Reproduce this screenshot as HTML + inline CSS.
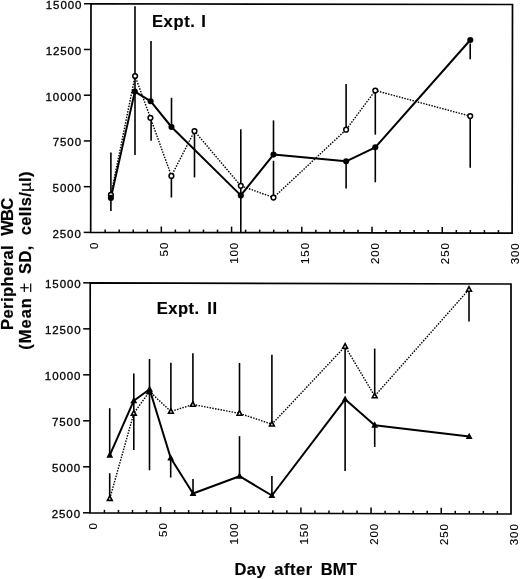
<!DOCTYPE html>
<html><head><meta charset="utf-8"><style>
html,body{margin:0;padding:0;background:#fff;width:520px;height:579px;overflow:hidden}
svg{display:block;will-change:transform}
text{font-family:"Liberation Sans",sans-serif;fill:#000}
.tk{font-size:11.5px;stroke:#000;stroke-width:0.3;letter-spacing:0.9px}
.xl{stroke-width:0.12}
.tt{font-size:16.5px;font-weight:bold;stroke:#000;stroke-width:0.2}
line,path{stroke:#000;stroke-linecap:butt}
.err{stroke:#000;stroke-width:1.6}
.sol{fill:none;stroke:#000;stroke-width:2.0;stroke-linejoin:round}
.dot{fill:none;stroke:#000;stroke-width:1.4;stroke-dasharray:1.5 1.3}
.oc{fill:#fff;stroke:#000;stroke-width:1.5}
.fc{fill:#000;stroke:none}
.ot{fill:#fff;stroke:#000;stroke-width:1.6;stroke-linejoin:miter}
.ft{fill:#000;stroke:none}
</style></head><body>
<svg width="520" height="579" viewBox="0 0 520 579">
<g fill="none" stroke="#000">
<path d="M91.00 3.75L512.50 4.50L512.10 233.10L90.70 232.40Z" fill="none" stroke-width="1.7" stroke-linejoin="miter"/>
<line x1="83.70" y1="232.40" x2="90.70" y2="232.40" stroke-width="1.5" />
<line x1="83.76" y1="186.67" x2="90.76" y2="186.67" stroke-width="1.5" />
<line x1="83.82" y1="140.94" x2="90.82" y2="140.94" stroke-width="1.5" />
<line x1="83.88" y1="95.21" x2="90.88" y2="95.21" stroke-width="1.5" />
<line x1="83.94" y1="49.48" x2="90.94" y2="49.48" stroke-width="1.5" />
<line x1="84.00" y1="3.75" x2="91.00" y2="3.75" stroke-width="1.5" />
<line x1="105.15" y1="232.42" x2="105.15" y2="229.42" stroke-width="1.5" />
<line x1="119.19" y1="232.45" x2="119.19" y2="229.45" stroke-width="1.5" />
<line x1="133.24" y1="232.47" x2="133.24" y2="229.47" stroke-width="1.5" />
<line x1="147.29" y1="232.49" x2="147.29" y2="229.49" stroke-width="1.5" />
<line x1="161.33" y1="232.52" x2="161.33" y2="226.52" stroke-width="1.5" />
<line x1="175.38" y1="232.54" x2="175.38" y2="229.54" stroke-width="1.5" />
<line x1="189.43" y1="232.56" x2="189.43" y2="229.56" stroke-width="1.5" />
<line x1="203.47" y1="232.59" x2="203.47" y2="229.59" stroke-width="1.5" />
<line x1="217.52" y1="232.61" x2="217.52" y2="229.61" stroke-width="1.5" />
<line x1="231.57" y1="232.63" x2="231.57" y2="226.63" stroke-width="1.5" />
<line x1="245.61" y1="232.66" x2="245.61" y2="229.66" stroke-width="1.5" />
<line x1="259.66" y1="232.68" x2="259.66" y2="229.68" stroke-width="1.5" />
<line x1="273.71" y1="232.70" x2="273.71" y2="229.70" stroke-width="1.5" />
<line x1="287.75" y1="232.73" x2="287.75" y2="229.73" stroke-width="1.5" />
<line x1="301.80" y1="232.75" x2="301.80" y2="226.75" stroke-width="1.5" />
<line x1="315.85" y1="232.77" x2="315.85" y2="229.77" stroke-width="1.5" />
<line x1="329.89" y1="232.80" x2="329.89" y2="229.80" stroke-width="1.5" />
<line x1="343.94" y1="232.82" x2="343.94" y2="229.82" stroke-width="1.5" />
<line x1="357.99" y1="232.84" x2="357.99" y2="229.84" stroke-width="1.5" />
<line x1="372.03" y1="232.87" x2="372.03" y2="226.87" stroke-width="1.5" />
<line x1="386.08" y1="232.89" x2="386.08" y2="229.89" stroke-width="1.5" />
<line x1="400.13" y1="232.91" x2="400.13" y2="229.91" stroke-width="1.5" />
<line x1="414.17" y1="232.94" x2="414.17" y2="229.94" stroke-width="1.5" />
<line x1="428.22" y1="232.96" x2="428.22" y2="229.96" stroke-width="1.5" />
<line x1="442.27" y1="232.98" x2="442.27" y2="226.98" stroke-width="1.5" />
<line x1="456.31" y1="233.01" x2="456.31" y2="230.01" stroke-width="1.5" />
<line x1="470.36" y1="233.03" x2="470.36" y2="230.03" stroke-width="1.5" />
<line x1="484.41" y1="233.05" x2="484.41" y2="230.05" stroke-width="1.5" />
<line x1="498.45" y1="233.08" x2="498.45" y2="230.08" stroke-width="1.5" />
<path d="M90.20 282.85L511.00 284.00L511.00 514.00L90.00 512.80Z" fill="none" stroke-width="1.7" stroke-linejoin="miter"/>
<line x1="83.00" y1="512.80" x2="90.00" y2="512.80" stroke-width="1.5" />
<line x1="83.04" y1="466.81" x2="90.04" y2="466.81" stroke-width="1.5" />
<line x1="83.08" y1="420.82" x2="90.08" y2="420.82" stroke-width="1.5" />
<line x1="83.12" y1="374.83" x2="90.12" y2="374.83" stroke-width="1.5" />
<line x1="83.16" y1="328.84" x2="90.16" y2="328.84" stroke-width="1.5" />
<line x1="83.20" y1="282.85" x2="90.20" y2="282.85" stroke-width="1.5" />
<line x1="104.43" y1="512.84" x2="104.43" y2="509.84" stroke-width="1.5" />
<line x1="118.47" y1="512.88" x2="118.47" y2="509.88" stroke-width="1.5" />
<line x1="132.50" y1="512.92" x2="132.50" y2="509.92" stroke-width="1.5" />
<line x1="146.53" y1="512.96" x2="146.53" y2="509.96" stroke-width="1.5" />
<line x1="160.57" y1="513.00" x2="160.57" y2="507.00" stroke-width="1.5" />
<line x1="174.60" y1="513.04" x2="174.60" y2="510.04" stroke-width="1.5" />
<line x1="188.63" y1="513.08" x2="188.63" y2="510.08" stroke-width="1.5" />
<line x1="202.67" y1="513.12" x2="202.67" y2="510.12" stroke-width="1.5" />
<line x1="216.70" y1="513.16" x2="216.70" y2="510.16" stroke-width="1.5" />
<line x1="230.73" y1="513.20" x2="230.73" y2="507.20" stroke-width="1.5" />
<line x1="244.77" y1="513.24" x2="244.77" y2="510.24" stroke-width="1.5" />
<line x1="258.80" y1="513.28" x2="258.80" y2="510.28" stroke-width="1.5" />
<line x1="272.83" y1="513.32" x2="272.83" y2="510.32" stroke-width="1.5" />
<line x1="286.87" y1="513.36" x2="286.87" y2="510.36" stroke-width="1.5" />
<line x1="300.90" y1="513.40" x2="300.90" y2="507.40" stroke-width="1.5" />
<line x1="314.93" y1="513.44" x2="314.93" y2="510.44" stroke-width="1.5" />
<line x1="328.97" y1="513.48" x2="328.97" y2="510.48" stroke-width="1.5" />
<line x1="343.00" y1="513.52" x2="343.00" y2="510.52" stroke-width="1.5" />
<line x1="357.03" y1="513.56" x2="357.03" y2="510.56" stroke-width="1.5" />
<line x1="371.07" y1="513.60" x2="371.07" y2="507.60" stroke-width="1.5" />
<line x1="385.10" y1="513.64" x2="385.10" y2="510.64" stroke-width="1.5" />
<line x1="399.13" y1="513.68" x2="399.13" y2="510.68" stroke-width="1.5" />
<line x1="413.17" y1="513.72" x2="413.17" y2="510.72" stroke-width="1.5" />
<line x1="427.20" y1="513.76" x2="427.20" y2="510.76" stroke-width="1.5" />
<line x1="441.23" y1="513.80" x2="441.23" y2="507.80" stroke-width="1.5" />
<line x1="455.27" y1="513.84" x2="455.27" y2="510.84" stroke-width="1.5" />
<line x1="469.30" y1="513.88" x2="469.30" y2="510.88" stroke-width="1.5" />
<line x1="483.33" y1="513.92" x2="483.33" y2="510.92" stroke-width="1.5" />
<line x1="497.37" y1="513.96" x2="497.37" y2="510.96" stroke-width="1.5" />
</g>
<line class="err" x1="110.9" y1="152.4" x2="110.9" y2="211"/>
<line class="err" x1="135" y1="6.2" x2="135" y2="155"/>
<line class="err" x1="151.0" y1="40.9" x2="151.0" y2="101.2"/>
<line class="err" x1="151.1" y1="117.8" x2="151.1" y2="140.8"/>
<line class="err" x1="171.5" y1="97.8" x2="171.5" y2="127"/>
<line class="err" x1="171.4" y1="175.9" x2="171.4" y2="197.5"/>
<line class="err" x1="194.5" y1="131.1" x2="194.5" y2="177.4"/>
<line class="err" x1="240.8" y1="129.2" x2="240.8" y2="232.4"/>
<line class="err" x1="273.5" y1="120.4" x2="273.5" y2="154.6"/>
<line class="err" x1="273.5" y1="160.8" x2="273.5" y2="197.6"/>
<line class="err" x1="346.1" y1="84" x2="346.1" y2="129.7"/>
<line class="err" x1="346.1" y1="161.3" x2="346.1" y2="188.4"/>
<line class="err" x1="375.3" y1="90.5" x2="375.3" y2="134.7"/>
<line class="err" x1="375.3" y1="147.3" x2="375.3" y2="182.3"/>
<line class="err" x1="470.2" y1="43.6" x2="470.2" y2="59.2"/>
<line class="err" x1="470.2" y1="116.1" x2="470.2" y2="167.8"/>
<line class="err" x1="109.7" y1="408.2" x2="109.7" y2="454"/>
<line class="err" x1="109.7" y1="473.2" x2="109.7" y2="498"/>
<line class="err" x1="133.8" y1="373.5" x2="133.8" y2="450"/>
<line class="err" x1="149.5" y1="359" x2="149.5" y2="470.3"/>
<line class="err" x1="170.9" y1="362.7" x2="170.9" y2="411"/>
<line class="err" x1="170.7" y1="458" x2="170.7" y2="477.5"/>
<line class="err" x1="192.9" y1="353.2" x2="192.9" y2="404.5"/>
<line class="err" x1="193" y1="479" x2="193" y2="493.5"/>
<line class="err" x1="239.5" y1="362.9" x2="239.5" y2="413.4"/>
<line class="err" x1="239.5" y1="436.2" x2="239.5" y2="476.2"/>
<line class="err" x1="271.9" y1="354.7" x2="271.9" y2="424.2"/>
<line class="err" x1="271.9" y1="476.1" x2="271.9" y2="495.5"/>
<line class="err" x1="345.1" y1="346.4" x2="345.1" y2="393.4"/>
<line class="err" x1="345.1" y1="399.3" x2="345.1" y2="470.9"/>
<line class="err" x1="374.7" y1="348.6" x2="374.7" y2="396"/>
<line class="err" x1="374.7" y1="425.2" x2="374.7" y2="447"/>
<line class="err" x1="469" y1="289.4" x2="469" y2="321.6"/>
<polyline class="dot" points="110.9,194.9 135.1,76.0 150.4,117.8 171.4,175.9 194.5,131.1 240.8,185.8 273.5,197.6 346.1,129.7 375.3,90.5 470.2,116.1"/>
<polyline class="sol" points="110.9,197.9 134.8,91.6 150.6,101.2 171.5,127.0 240.8,195.4 273.5,154.6 346.1,161.3 375.3,147.3 470.3,40.0"/>
<polyline class="dot" points="109.8,498.6 133.8,413.3 149.5,391.5 170.9,411.5 192.9,404.5 239.5,413.4 271.9,424.2 345.1,346.4 374.7,396.0 469.0,289.4"/>
<polyline class="sol" points="109.8,455.1 133.8,400.7 149.6,389.3 170.7,458.0 193.0,493.5 239.5,476.2 271.9,495.5 345.1,399.3 374.7,425.2 469.2,436.5"/>
<circle class="oc" cx="110.9" cy="194.9" r="2.35"/>
<circle class="oc" cx="135.1" cy="76.0" r="2.35"/>
<circle class="oc" cx="150.4" cy="117.8" r="2.35"/>
<circle class="oc" cx="171.4" cy="175.9" r="2.35"/>
<circle class="oc" cx="194.5" cy="131.1" r="2.35"/>
<circle class="oc" cx="240.8" cy="185.8" r="2.35"/>
<circle class="oc" cx="273.5" cy="197.6" r="2.35"/>
<circle class="oc" cx="346.1" cy="129.7" r="2.35"/>
<circle class="oc" cx="375.3" cy="90.5" r="2.35"/>
<circle class="oc" cx="470.2" cy="116.1" r="2.35"/>
<circle class="fc" cx="110.9" cy="197.9" r="3.05"/>
<circle class="fc" cx="134.8" cy="91.6" r="3.05"/>
<circle class="fc" cx="150.6" cy="101.2" r="3.05"/>
<circle class="fc" cx="171.5" cy="127.0" r="3.05"/>
<circle class="fc" cx="240.8" cy="195.4" r="3.05"/>
<circle class="fc" cx="273.5" cy="154.6" r="3.05"/>
<circle class="fc" cx="346.1" cy="161.3" r="3.05"/>
<circle class="fc" cx="375.3" cy="147.3" r="3.05"/>
<circle class="fc" cx="470.3" cy="40.0" r="3.05"/>
<path class="ot" d="M109.80 495.90L112.20 500.40L107.40 500.40Z"/>
<path class="ot" d="M133.80 410.60L136.20 415.10L131.40 415.10Z"/>
<path class="ot" d="M149.50 388.80L151.90 393.30L147.10 393.30Z"/>
<path class="ot" d="M170.90 408.80L173.30 413.30L168.50 413.30Z"/>
<path class="ot" d="M192.90 401.80L195.30 406.30L190.50 406.30Z"/>
<path class="ot" d="M239.50 410.70L241.90 415.20L237.10 415.20Z"/>
<path class="ot" d="M271.90 421.50L274.30 426.00L269.50 426.00Z"/>
<path class="ot" d="M345.10 343.70L347.50 348.20L342.70 348.20Z"/>
<path class="ot" d="M374.70 393.30L377.10 397.80L372.30 397.80Z"/>
<path class="ot" d="M469.00 286.70L471.40 291.20L466.60 291.20Z"/>
<path class="ft" d="M149.50 388.20L152.80 394.20L146.20 394.20Z"/>
<path class="ft" d="M109.80 451.26L113.20 457.66L106.40 457.66Z"/>
<path class="ft" d="M133.80 396.86L137.20 403.26L130.40 403.26Z"/>
<path class="ft" d="M149.60 385.46L153.00 391.86L146.20 391.86Z"/>
<path class="ft" d="M170.70 454.16L174.10 460.56L167.30 460.56Z"/>
<path class="ft" d="M193.00 489.66L196.40 496.06L189.60 496.06Z"/>
<path class="ft" d="M239.50 472.36L242.90 478.76L236.10 478.76Z"/>
<path class="ft" d="M271.90 491.66L275.30 498.06L268.50 498.06Z"/>
<path class="ft" d="M345.10 395.46L348.50 401.86L341.70 401.86Z"/>
<path class="ft" d="M374.70 421.36L378.10 427.76L371.30 427.76Z"/>
<path class="ft" d="M469.20 432.66L472.60 439.06L465.80 439.06Z"/>
<text class="tk" x="0" y="0" transform="translate(81.70 237.69) scale(1.0 1)" text-anchor="end">2500</text>
<text class="tk" x="0" y="0" transform="translate(81.81 192.01) scale(1.0 1)" text-anchor="end">5000</text>
<text class="tk" x="0" y="0" transform="translate(81.93 146.33) scale(1.0 1)" text-anchor="end">7500</text>
<text class="tk" x="0" y="0" transform="translate(82.05 100.66) scale(1.0 1)" text-anchor="end">10000</text>
<text class="tk" x="0" y="0" transform="translate(82.17 54.98) scale(1.0 1)" text-anchor="end">12500</text>
<text class="tk" x="0" y="0" transform="translate(82.29 9.30) scale(1.0 1)" text-anchor="end">15000</text>
<text class="tk xl" x="0" y="0" transform="translate(98.00 241.70) rotate(-90) scale(1.0 1)" text-anchor="end">0</text>
<text class="tk xl" x="0" y="0" transform="translate(168.23 241.82) rotate(-90) scale(1.0 1)" text-anchor="end">50</text>
<text class="tk xl" x="0" y="0" transform="translate(238.47 241.93) rotate(-90) scale(1.0 1)" text-anchor="end">100</text>
<text class="tk xl" x="0" y="0" transform="translate(308.70 242.05) rotate(-90) scale(1.0 1)" text-anchor="end">150</text>
<text class="tk xl" x="0" y="0" transform="translate(378.93 242.17) rotate(-90) scale(1.0 1)" text-anchor="end">200</text>
<text class="tk xl" x="0" y="0" transform="translate(449.17 242.28) rotate(-90) scale(1.0 1)" text-anchor="end">250</text>
<text class="tk xl" x="0" y="0" transform="translate(519.40 242.40) rotate(-90) scale(1.0 1)" text-anchor="end">300</text>
<text class="tk" x="0" y="0" transform="translate(80.97 517.79) scale(1.0 1)" text-anchor="end">2500</text>
<text class="tk" x="0" y="0" transform="translate(81.09 471.85) scale(1.0 1)" text-anchor="end">5000</text>
<text class="tk" x="0" y="0" transform="translate(81.21 425.91) scale(1.0 1)" text-anchor="end">7500</text>
<text class="tk" x="0" y="0" transform="translate(81.33 379.97) scale(1.0 1)" text-anchor="end">10000</text>
<text class="tk" x="0" y="0" transform="translate(81.45 334.03) scale(1.0 1)" text-anchor="end">12500</text>
<text class="tk" x="0" y="0" transform="translate(81.56 288.09) scale(1.0 1)" text-anchor="end">15000</text>
<text class="tk xl" x="0" y="0" transform="translate(97.30 522.10) rotate(-90) scale(1.0 1)" text-anchor="end">0</text>
<text class="tk xl" x="0" y="0" transform="translate(167.47 522.30) rotate(-90) scale(1.0 1)" text-anchor="end">50</text>
<text class="tk xl" x="0" y="0" transform="translate(237.63 522.50) rotate(-90) scale(1.0 1)" text-anchor="end">100</text>
<text class="tk xl" x="0" y="0" transform="translate(307.80 522.70) rotate(-90) scale(1.0 1)" text-anchor="end">150</text>
<text class="tk xl" x="0" y="0" transform="translate(377.97 522.90) rotate(-90) scale(1.0 1)" text-anchor="end">200</text>
<text class="tk xl" x="0" y="0" transform="translate(448.13 523.10) rotate(-90) scale(1.0 1)" text-anchor="end">250</text>
<text class="tk xl" x="0" y="0" transform="translate(518.30 523.30) rotate(-90) scale(1.0 1)" text-anchor="end">300</text>
<text class="tt" x="151.90" y="27.2" textLength="43.03" lengthAdjust="spacing">Expt.</text>
<text class="tt" x="201.30" y="27.3" textLength="4.58" lengthAdjust="spacing">I</text>
<text class="tt" x="156.80" y="313.6" textLength="42.34" lengthAdjust="spacing">Expt.</text>
<text class="tt" x="207.30" y="313.6" textLength="9.85" lengthAdjust="spacing">II</text>
<text class="tt" x="234.50" y="575.0" textLength="31.20" lengthAdjust="spacing">Day</text>
<text class="tt" x="274.32" y="575.2" textLength="37.85" lengthAdjust="spacing">after</text>
<text class="tt" x="320.80" y="575.4" textLength="35.95" lengthAdjust="spacing">BMT</text>
<text class="tt" transform="translate(13.0 330.00) rotate(-90)" x="0" y="0" textLength="84.67" lengthAdjust="spacing">Peripheral</text>
<text class="tt" transform="translate(13.0 235.72) rotate(-90)" x="0" y="0" textLength="37.85" lengthAdjust="spacing">WBC</text>
<text class="tt" transform="translate(30.9 349.82) rotate(-90)" x="0" y="0" textLength="51.76" lengthAdjust="spacing">(Mean</text>
<text class="tt" transform="translate(30.9 273.88) rotate(-90)" x="0" y="0" textLength="28.22" lengthAdjust="spacing">SD,</text>
<text class="tt" transform="translate(30.9 235.24) rotate(-90)" x="0" y="0" textLength="63.68" lengthAdjust="spacing">cells/<tspan font-weight="normal">µ</tspan>l)</text>
<g stroke="#000" stroke-width="1.2"><line x1="24.3" y1="283.4" x2="24.3" y2="292.1"/><line x1="30.7" y1="283.4" x2="30.7" y2="292.1"/><line x1="20.2" y1="287.75" x2="28.8" y2="287.75"/></g>
</svg>
</body></html>
